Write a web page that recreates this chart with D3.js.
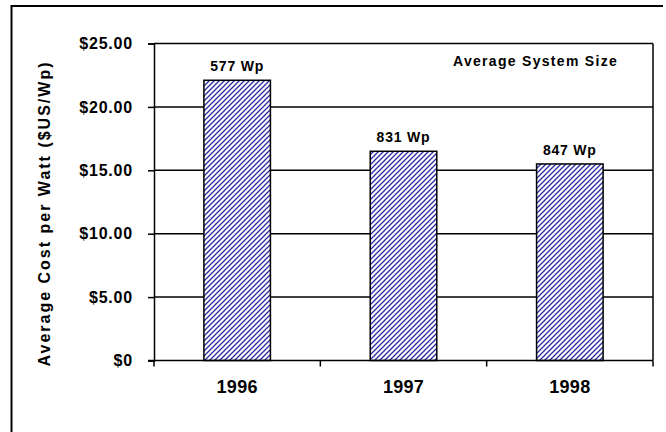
<!DOCTYPE html>
<html><head><meta charset="utf-8">
<script src="https://cdn.jsdelivr.net/npm/d3@7"></script>
<style>
html,body{margin:0;padding:0;background:#fff;}
svg{display:block;font-family:"Liberation Sans",Arial,sans-serif;font-weight:bold;}
</style></head>
<body>
<svg id="c" width="666" height="432"></svg>
<script>
const years = ["1996", "1997", "1998"];
const costs = [22.1, 16.5, 15.5];
const sizeLabels = ["577 Wp", "831 Wp", "847 Wp"];
const yTicks = [0, 5, 10, 15, 20, 25];
const yTitle = "Average Cost per Watt ($US/Wp)";
const legendText = "Average System Size";

const svg = d3.select("#c");
const L = 154, R = 653, T = 43.5, B = 360.5;

// outer frame (left and top visible)
svg.append("line").attr("x1",11.5).attr("x2",11.5).attr("y1",5).attr("y2",440).attr("stroke","#000").attr("stroke-width",2);
svg.append("line").attr("x1",11).attr("x2",663).attr("y1",6).attr("y2",6).attr("stroke","#000").attr("stroke-width",2);

const x = d3.scaleBand().domain(years).range([L, R]).paddingInner(0.6).paddingOuter(0.3);
const y = d3.scaleLinear().domain([0, 25]).range([B, T]);

const defs = svg.append("defs");
const pat = defs.append("pattern").attr("id","hatch").attr("patternUnits","userSpaceOnUse")
  .attr("width",5).attr("height",5);
pat.append("rect").attr("width",5).attr("height",5).attr("fill","#fff");
pat.append("path").attr("d","M-1,6 L6,-1 M-1,1 L1,-1 M4,6 L6,4")
  .attr("stroke","#2a2a9e").attr("stroke-width",1.3);

// gridlines
svg.append("g").selectAll("line").data(yTicks.filter(d=>d>0)).join("line")
  .attr("x1",L).attr("x2",R).attr("y1",d=>y(d)).attr("y2",d=>y(d))
  .attr("stroke","#000").attr("stroke-width",1.5);
// right border
svg.append("line").attr("x1",R).attr("x2",R).attr("y1",T).attr("y2",B)
  .attr("stroke","#000").attr("stroke-width",1.5);

// bars
svg.append("g").selectAll("rect").data(years).join("rect")
  .attr("x",d=>x(d)).attr("width",x.bandwidth())
  .attr("y",(d,i)=>y(costs[i])).attr("height",(d,i)=>B-y(costs[i]))
  .attr("fill","url(#hatch)").attr("stroke","#000").attr("stroke-width",1.5);

// bar labels
svg.append("g").selectAll("text").data(years).join("text")
  .attr("x",d=>x(d)+x.bandwidth()/2).attr("y",(d,i)=>y(costs[i])-9)
  .attr("text-anchor","middle").attr("font-size",14).attr("letter-spacing","0.8px")
  .text((d,i)=>sizeLabels[i]);

// y axis
const yAxis = d3.axisLeft(y).tickValues(yTicks).tickSize(6).tickPadding(15)
  .tickFormat(d => d === 0 ? "$0" : "$" + d.toFixed(2));
const gy = svg.append("g").attr("transform",`translate(${L},0)`).call(yAxis);
gy.select(".domain").attr("stroke","#000").attr("stroke-width",1.5);
gy.selectAll(".tick line").attr("stroke","#000").attr("stroke-width",1.5);
gy.selectAll(".tick text").attr("font-family","Liberation Sans, Arial, sans-serif")
  .attr("font-weight","bold").attr("font-size",16).attr("letter-spacing","0.8px").attr("fill","#000");

// x axis
const xAxis = d3.axisBottom(x).tickSize(0).tickPadding(20);
const gx = svg.append("g").attr("transform",`translate(0,${B})`).call(xAxis);
gx.select(".domain").remove();
gx.selectAll(".tick text").attr("font-family","Liberation Sans, Arial, sans-serif")
  .attr("font-weight","bold").attr("font-size",18).attr("letter-spacing","0.3px").attr("fill","#000");
svg.append("line").attr("x1",L-6).attr("x2",R).attr("y1",B).attr("y2",B)
  .attr("stroke","#000").attr("stroke-width",1.5);
const gap = (x.step() - x.bandwidth())/2;
const bounds = years.map(d => x(d) - gap).concat([x(years[years.length-1]) + x.bandwidth() + gap]);
svg.append("g").selectAll("line").data(bounds).join("line")
  .attr("x1",d=>d).attr("x2",d=>d).attr("y1",B).attr("y2",B+6)
  .attr("stroke","#000").attr("stroke-width",1.5);

// y title
svg.append("text").attr("transform",`translate(49.5,${(57+370)/2}) rotate(-90)`)
  .attr("text-anchor","middle").attr("font-size",16).attr("letter-spacing","2px").text(yTitle);

// legend text
svg.append("text").attr("x",453).attr("y",66).attr("font-size",14).attr("letter-spacing","1.3px").text(legendText);
</script>
</body></html>
